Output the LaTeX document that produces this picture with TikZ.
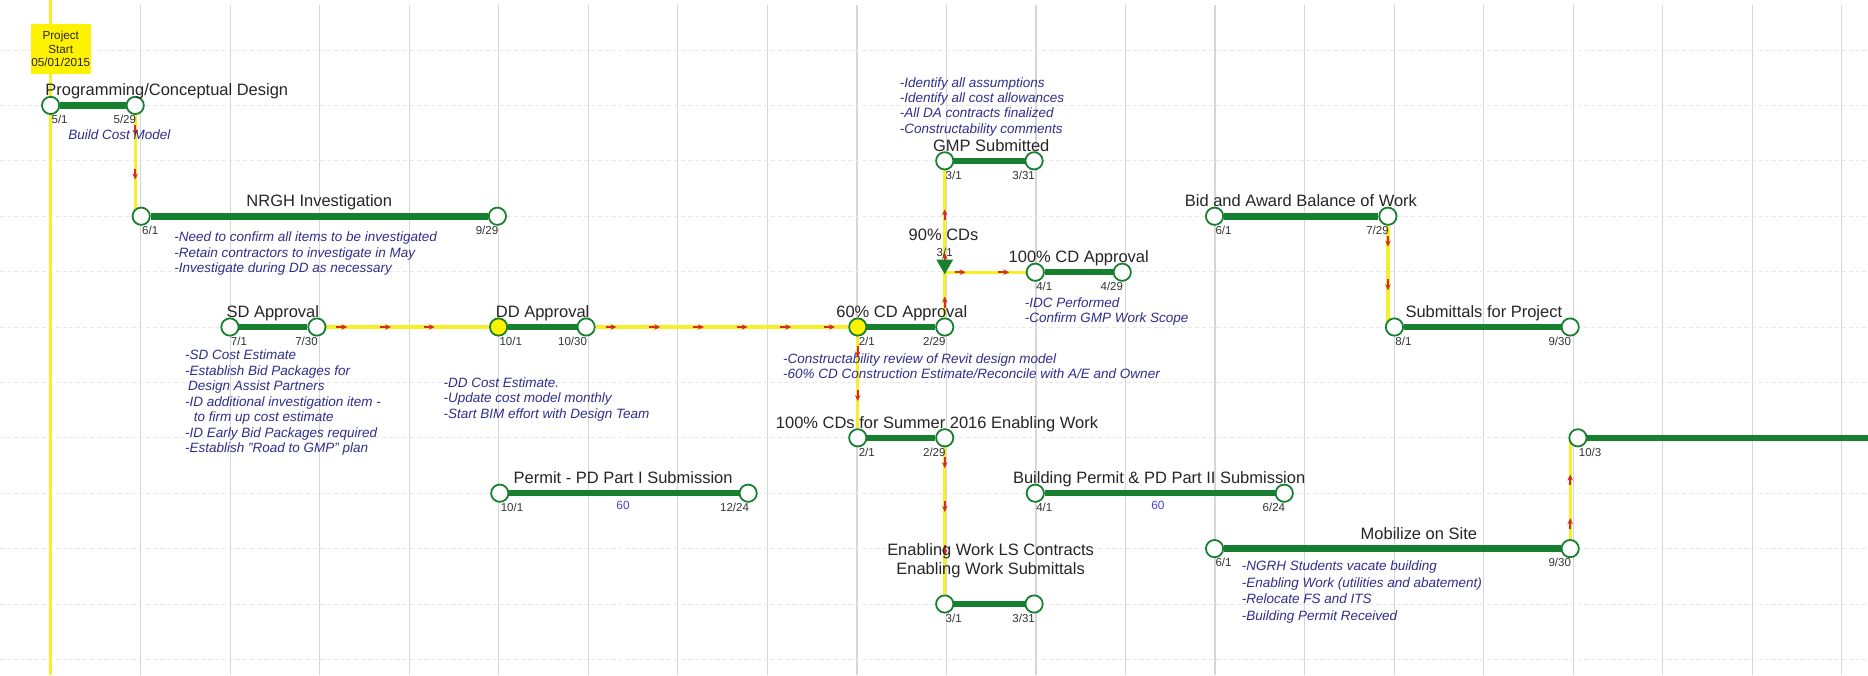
\documentclass[tikz,border=0pt]{standalone}
\usepackage{fontspec}
\setmainfont{Liberation Sans}
\usetikzlibrary{decorations.markings,arrows.meta,shapes.geometric}
\definecolor{barg}{RGB}{22,128,48}
\definecolor{notec}{RGB}{48,46,140}
\definecolor{ylw}{RGB}{246,240,40}
\definecolor{gridc}{RGB}{214,214,214}
\definecolor{dashc}{RGB}{232,232,232}
\definecolor{numc}{RGB}{70,70,200}
\definecolor{arrc}{RGB}{215,45,30}
\definecolor{ttlc}{RGB}{38,38,38}
\pgfdeclarelayer{back}
\pgfsetlayers{back,main}
\tikzset{
 ms/.style={circle, draw=barg, line width=0.9pt, fill=white, minimum size=8.7pt, inner sep=0pt},
 msy/.style={ms, fill=yellow},
 bar/.style={draw=barg, line width=3.3pt},
 ttl/.style={font=\fontsize{8.3}{9.9}\selectfont, text=ttlc, inner sep=0pt, align=center, anchor=base},
 dtl/.style={font=\fontsize{5.8}{6.5}\selectfont, text=black!80, inner sep=0pt},
 note/.style={font=\fontsize{6.8}{7.8}\selectfont\itshape, text=notec, inner sep=0pt, align=left, anchor=north west},
 numl/.style={font=\fontsize{6}{7}\selectfont, text=numc, inner sep=0pt},
 conn/.style={draw=ylw, line width=1.7pt, postaction={decorate, decoration={markings,
   mark=between positions 10pt and -7pt step 22pt with {\draw[arrc, line width=0.8pt, -{Stealth[length=3pt,width=2.8pt]}] (-5pt,0) -- (0.5pt,0);}}}},
}
\newcommand\mysd[2]{\node[dtl, anchor=north west] (#1-d) at ([xshift=0.3pt,yshift=-4.8pt]#1.center) {#2};}
\newcommand\myed[2]{\node[dtl, anchor=north east] (#1-d) at ([xshift=0.6pt,yshift=-4.8pt]#1.center) {#2};}
\begin{document}
\begin{tikzpicture}[x=0.6pt,y=-0.6pt]
\useasboundingbox (0,0) rectangle (1568,567);
\begin{pgfonlayer}{back}
\fill[white] (0,0) rectangle (1568,567);
\foreach \i in {0,...,19} \draw[gridc, line width=0.6pt] ({118+75.16*\i},4) -- ({118+75.16*\i},567);
\foreach \j in {0,...,11} \draw[dashc, line width=0.5pt, dash pattern=on 2pt off 1.5pt] (0,{42+46.5*\j}) -- (1568,{42+46.5*\j});
\draw[ylw, line width=1.3pt] (42.5,0) -- (42.5,567);
\end{pgfonlayer}

% project start
\node[fill=yellow, minimum width=30pt, minimum height=25.2pt, inner sep=0pt, align=center,
  font=\fontsize{5.9}{6.6}\selectfont, text=ttlc] (pstart) at (51,41) {Project\\Start\\05/01/2015};

% milestones
\node[ms] (p1s) at (42.5,88.5) {};
\node[ms] (p1e) at (113.5,88.5) {};
\node[ms] (n2s) at (118.5,181.5) {};
\node[ms] (n2e) at (417.5,181.5) {};
\node[ms] (sds) at (193,274.5) {};
\node[ms] (sde) at (266,274.5) {};
\node[msy] (dds) at (418.5,274.5) {};
\node[ms] (dde) at (492,274.5) {};
\node[msy] (c60s) at (720,274.5) {};
\node[ms] (c60e) at (793,274.5) {};
\node[ms] (gmps) at (793,135) {};
\node[ms] (gmpe) at (868,135) {};
\node[ms] (cdas) at (869,228.5) {};
\node[ms] (cdae) at (942,228.5) {};
\node[ms] (c100s) at (720,367.5) {};
\node[ms] (c100e) at (793,367.5) {};
\node[ms] (ews) at (793,507) {};
\node[ms] (ewe) at (868,507) {};
\node[ms] (pp1s) at (419.5,414) {};
\node[ms] (pp1e) at (628,414) {};
\node[ms] (bp2s) at (869,414) {};
\node[ms] (bp2e) at (1078,414) {};
\node[ms] (bids) at (1019.5,181.5) {};
\node[ms] (bide) at (1165,181.5) {};
\node[ms] (subs) at (1170.5,274.5) {};
\node[ms] (sube) at (1318,274.5) {};
\node[ms] (mobs) at (1019.5,460.5) {};
\node[ms] (mobe) at (1318,460.5) {};
\node[ms] (m103) at (1324.5,367.5) {};
\coordinate (redge) at (1570,367.5);
\coordinate (j90) at (793,228.5);
\node[regular polygon, regular polygon sides=3, shape border rotate=180, draw=barg, fill=barg,
  line width=0.6pt, minimum size=8.6pt, inner sep=0pt] (t90) at (793,222) {};

% bars and connectors
\begin{pgfonlayer}{back}
\draw[conn] (p1e.south) -- (p1e.south |- n2s.center);
\draw[conn] (sde.east) -- (dds.west);
\draw[conn] (dde.east) -- (c60s.west);
\draw[conn] (c60s.south) -- (c100s.north);
\draw[conn] (c100e.south) -- (ews.north);
\draw[conn] (c60e.north) -- (gmps.south);
\draw[conn] (j90) -- (cdas.west);
\draw[conn] (bide.south) -- (bide.south |- subs.center);
\draw[conn] (mobe.north) -- (mobe.north |- m103.center);
\foreach \a/\b in {p1s/p1e,n2s/n2e,sds/sde,dds/dde,c60s/c60e,gmps/gmpe,cdas/cdae,c100s/c100e,ews/ewe,pp1s/pp1e,bp2s/bp2e,bids/bide,subs/sube,mobs/mobe,m103/redge}
  \draw[bar] (\a) -- (\b);
\end{pgfonlayer}

% titles
\node[ttl] (t1) at (140,80.5) {Programming/Conceptual Design};
\node[ttl] (t2) at (268,173.5) {NRGH Investigation};
\node[ttl] (t3) at (229,266.5) {SD Approval};
\node[ttl] (t4) at (455.5,266.5) {DD Approval};
\node[ttl] (t5) at (757,266.5) {60\% CD Approval};
\node[ttl] (t6) at (832,127) {GMP Submitted};
\node[ttl] (t7) at (792,202) {90\% CDs};
\node[ttl] (t8) at (905.5,220) {100\% CD Approval};
\node[ttl] (t9) at (1092,173.5) {Bid and Award Balance of Work};
\node[ttl] (t10) at (1245.5,266.5) {Submittals for Project};
\node[ttl] (t11) at (786.5,359.5) {100\% CDs for Summer 2016 Enabling Work};
\node[ttl] (t12) at (523,406) {Permit - PD Part I Submission};
\node[ttl] (t13) at (973,406) {Building Permit \& PD Part II Submission};
\node[ttl] (t14) at (1191,452.5) {Mobilize on Site};
\node[ttl, anchor=base] (t15) at (831.5,482.5) {Enabling Work LS Contracts\\Enabling Work Submittals};
\node[dtl] (t7d) at (793,211.5) {3/1};

% dates
\mysd{p1s}{5/1}\myed{p1e}{5/29}
\mysd{n2s}{6/1}\myed{n2e}{9/29}
\mysd{sds}{7/1}\myed{sde}{7/30}
\mysd{dds}{10/1}\myed{dde}{10/30}
\mysd{c60s}{2/1}\myed{c60e}{2/29}
\mysd{gmps}{3/1}\myed{gmpe}{3/31}
\mysd{cdas}{4/1}\myed{cdae}{4/29}
\mysd{c100s}{2/1}\myed{c100e}{2/29}
\mysd{ews}{3/1}\myed{ewe}{3/31}
\mysd{pp1s}{10/1}\myed{pp1e}{12/24}
\mysd{bp2s}{4/1}\myed{bp2e}{6/24}
\mysd{bids}{6/1}\myed{bide}{7/29}
\mysd{subs}{8/1}\myed{sube}{9/30}
\mysd{mobs}{6/1}\myed{mobe}{9/30}
\mysd{m103}{10/3}

% durations
\node[numl] (n60a) at (523,424) {60};
\node[numl] (n60b) at (972,424) {60};

% notes
\node[note] (nt1) at (57,108.5) {Build Cost Model};
\node[note] (nt2) at (146,194.5) {-Need to confirm all items to be investigated\\-Retain contractors to investigate in May\\-Investigate during DD as necessary};
\node[note] (nt3) at (155,293.5) {-SD Cost Estimate\\-Establish Bid Packages for\\\hspace*{1.5pt}Design Assist Partners\\-ID additional investigation item -\\\hspace*{4.5pt}to firm up cost estimate\\-ID Early Bid Packages required\\-Establish "Road to GMP" plan};
\node[note] (nt4) at (372,316.5) {-DD Cost Estimate.\\-Update cost model monthly\\-Start BIM effort with Design Team};
\node[note] (nt5) at (657,296.5) {-Constructability review of Revit design model\\-60\% CD Construction Estimate/Reconcile with A/E and Owner};
\node[note] (nt6) at (755,64.5) {-Identify all assumptions\\-Identify all cost allowances\\-All DA contracts finalized\\-Constructability comments};
\node[note] (nt7) at (860,249.5) {-IDC Performed\\-Confirm GMP Work Scope};
\node[note, font=\fontsize{6.8}{8.3}\selectfont\itshape] (nt8) at (1042,470.5) {-NGRH Students vacate building\\-Enabling Work (utilities and abatement)\\-Relocate FS and ITS\\-Building Permit Received};
\end{tikzpicture}
\end{document}
